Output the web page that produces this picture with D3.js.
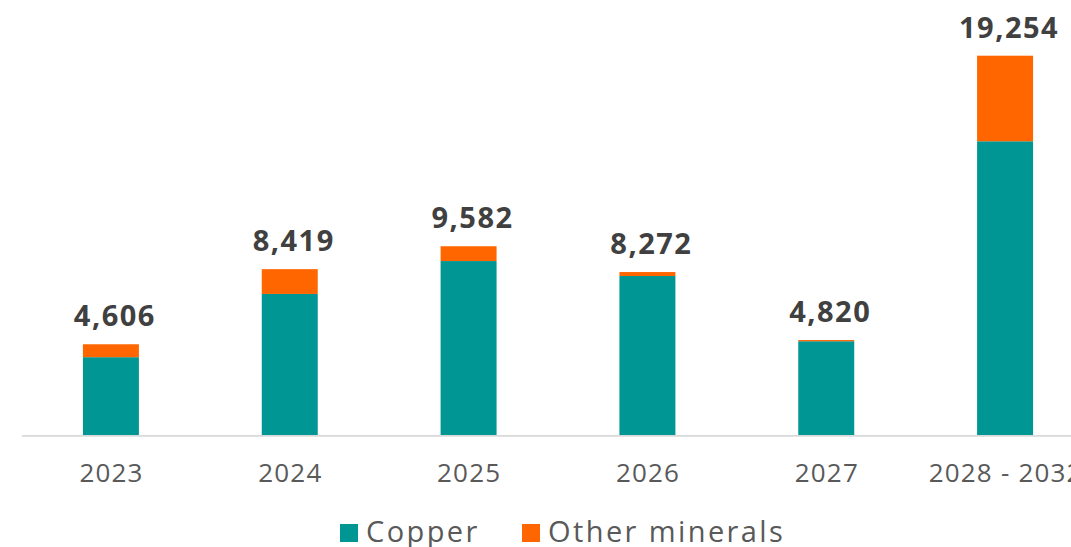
<!DOCTYPE html>
<html>
<head>
<meta charset="utf-8">
<script src="https://cdn.jsdelivr.net/npm/d3@7"></script>
<style>
  html, body { margin: 0; padding: 0; background: #fff; overflow: hidden; }
  svg { display: block; }
</style>
</head>
<body>
<svg id="chart" width="1071" height="547"></svg>
<script>
const categories = ["2023", "2024", "2025", "2026", "2027", "2028 - 2032"];
const copper = [3950, 7160, 8830, 8070, 4760, 14910];
const otherMinerals = [656, 1259, 752, 202, 60, 4344];
const totals = [4606, 8419, 9582, 8272, 4820, 19254];
const seriesNames = ["Copper", "Other minerals"];
const seriesColors = ["#009693", "#FF6600"];

const svg = d3.select("#chart");
const baseY = 435;

const x = d3.scaleBand()
  .domain(categories)
  .range([21.5, 1094.5])
  .paddingInner(0.687)
  .paddingOuter(0.3435);

const y = d3.scaleLinear()
  .domain([0, 19254])
  .range([baseY, 55.7]);

const rows = categories.map((c, i) => ({ cat: c, Copper: copper[i], "Other minerals": otherMinerals[i], total: totals[i] }));
const stack = d3.stack().keys(seriesNames)(rows);

// bars
svg.append("g").selectAll("g")
  .data(stack)
  .join("g")
  .attr("fill", (d, i) => seriesColors[i])
  .selectAll("rect")
  .data(d => d)
  .join("rect")
  .attr("x", d => x(d.data.cat))
  .attr("width", x.bandwidth())
  .attr("y", d => y(d[1]))
  .attr("height", d => y(d[0]) - y(d[1]));

// axis line
svg.append("line")
  .attr("x1", 22).attr("x2", 1071)
  .attr("y1", baseY + 0.8).attr("y2", baseY + 0.8)
  .attr("stroke", "#d9d9d9")
  .attr("stroke-width", 1.8);

// category labels
svg.append("g").selectAll("text")
  .data(categories)
  .join("text")
  .attr("x", d => x(d) + x.bandwidth() / 2 + 0.6)
  .attr("y", 482)
  .attr("text-anchor", "middle")
  .attr("font-family", "'Open Sans', sans-serif")
  .attr("font-size", 26)
  .attr("font-weight", 400)
  .attr("letter-spacing", 1.2)
  .attr("fill", "#595959")
  .text(d => d);

// total labels
const fmt = d3.format(",");
svg.append("g").selectAll("text")
  .data(rows)
  .join("text")
  .attr("x", d => x(d.cat) + x.bandwidth() / 2 + 4)
  .attr("y", d => y(d.total) - 18)
  .attr("text-anchor", "middle")
  .attr("font-family", "'Open Sans', sans-serif")
  .attr("font-size", 29)
  .attr("font-weight", 700)
  .attr("letter-spacing", 1.5)
  .attr("fill", "#404040")
  .text(d => fmt(d.total));

// legend
const legendItems = [
  { name: seriesNames[0], color: seriesColors[0], sx: 340, tx: 366 },
  { name: seriesNames[1], color: seriesColors[1], sx: 522, tx: 548 }
];
const lg = svg.append("g");
lg.selectAll("rect")
  .data(legendItems)
  .join("rect")
  .attr("x", d => d.sx)
  .attr("y", 524)
  .attr("width", 18)
  .attr("height", 18)
  .attr("fill", d => d.color);
lg.selectAll("text")
  .data(legendItems)
  .join("text")
  .attr("x", d => d.tx)
  .attr("y", 542)
  .attr("font-family", "'Open Sans', sans-serif")
  .attr("font-size", 29)
  .attr("font-weight", 400)
  .attr("letter-spacing", 2.4)
  .attr("fill", "#595959")
  .text(d => d.name);
</script>
</body>
</html>
